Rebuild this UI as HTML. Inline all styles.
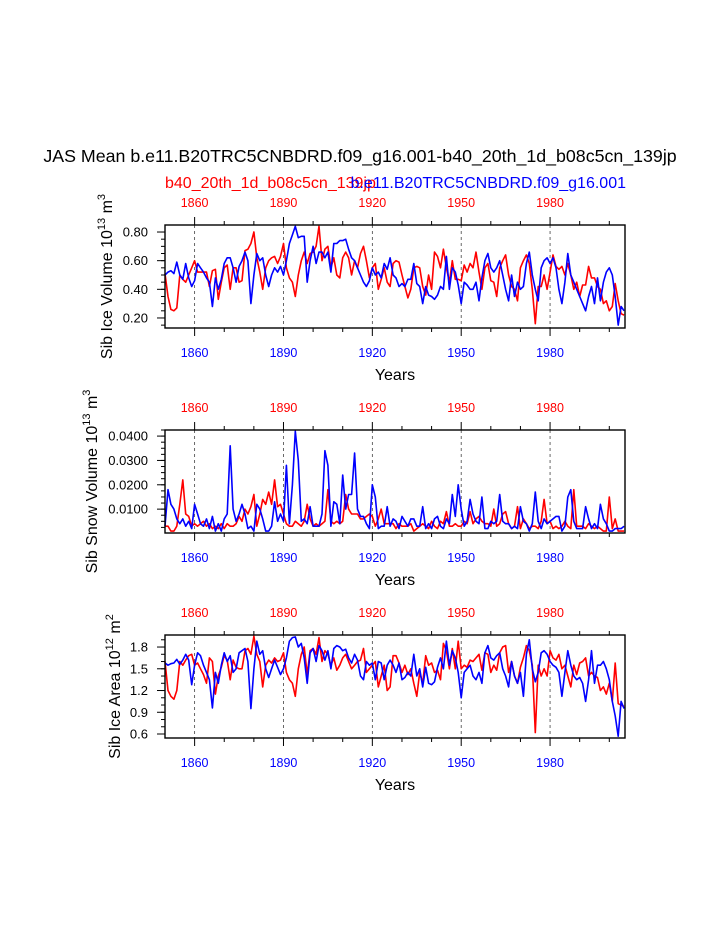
<!DOCTYPE html>
<html><head><meta charset="utf-8"><style>
body{margin:0;background:#fff;}
svg{display:block;font-family:"Liberation Sans",Arial,sans-serif;}
</style></head><body>
<svg id="chart" width="723" height="935" viewBox="0 0 723 935" xmlns="http://www.w3.org/2000/svg">
<text x="360" y="162" font-size="17.8" text-anchor="middle">JAS Mean b.e11.B20TRC5CNBDRD.f09_g16.001-b40_20th_1d_b08c5cn_139jp</text>
<text x="165" y="188" font-size="16" fill="#ff0000">b40_20th_1d_b08c5cn_139jp</text>
<text x="626" y="188" font-size="16" fill="#0000ff" text-anchor="end">b.e11.B20TRC5CNBDRD.f09_g16.001</text>
<g id="plots"></g>
</svg>
<script>
const years0 = 1850;
const volRed = [.51,.35,.26,.25,.27,.50,.47,.45,.50,.55,.60,.52,.52,.52,.52,.42,.53,.54,.33,.45,.55,.57,.40,.55,.55,.45,.46,.67,.68,.72,.80,.62,.52,.40,.55,.60,.62,.63,.58,.63,.72,.55,.48,.45,.35,.50,.60,.66,.58,.65,.66,.70,.84,.60,.68,.70,.55,.62,.50,.48,.62,.66,.62,.50,.60,.55,.65,.70,.60,.48,.55,.58,.40,.47,.55,.45,.42,.58,.60,.59,.50,.42,.34,.40,.55,.56,.55,.42,.36,.50,.40,.66,.63,.55,.68,.55,.45,.60,.47,.47,.46,.57,.52,.58,.55,.66,.52,.40,.55,.58,.46,.45,.35,.55,.60,.64,.50,.42,.40,.32,.55,.60,.64,.58,.40,.16,.42,.42,.50,.40,.52,.64,.56,.54,.56,.50,.58,.50,.40,.45,.35,.43,.43,.56,.48,.48,.42,.40,.30,.32,.25,.28,.44,.32,.23,.22];
const volBlue = [.50,.52,.53,.51,.59,.50,.47,.58,.48,.42,.46,.58,.55,.52,.48,.45,.28,.48,.40,.47,.58,.62,.62,.55,.45,.56,.60,.66,.60,.30,.50,.65,.60,.62,.50,.42,.50,.55,.52,.56,.50,.60,.72,.78,.84,.76,.77,.77,.45,.60,.70,.58,.66,.66,.62,.66,.52,.72,.72,.74,.74,.75,.68,.62,.60,.55,.50,.45,.42,.46,.55,.50,.52,.48,.58,.54,.62,.50,.48,.42,.44,.42,.47,.47,.58,.44,.42,.30,.42,.36,.35,.33,.36,.42,.40,.63,.40,.55,.52,.43,.30,.45,.43,.40,.40,.45,.32,.48,.60,.65,.55,.52,.55,.60,.50,.40,.32,.50,.35,.45,.40,.42,.58,.66,.50,.40,.32,.55,.60,.62,.58,.62,.55,.40,.30,.45,.65,.50,.45,.40,.35,.30,.25,.35,.42,.30,.48,.32,.45,.52,.55,.50,.35,.15,.28,.25];
const snowRed = [.003,.003,.001,.001,.003,.012,.022,.008,.007,.003,.004,.003,.004,.005,.003,.004,.002,.003,.002,.004,.002,.004,.003,.003,.004,.007,.005,.010,.008,.011,.016,.003,.008,.014,.012,.017,.012,.022,.011,.012,.008,.004,.003,.003,.005,.004,.003,.005,.012,.006,.003,.004,.003,.004,.005,.018,.005,.004,.005,.004,.005,.016,.010,.008,.008,.008,.006,.006,.007,.008,.007,.003,.006,.010,.004,.004,.004,.004,.002,.004,.003,.003,.003,.004,.001,.002,.003,.004,.003,.002,.005,.003,.002,.005,.004,.009,.003,.003,.004,.003,.003,.005,.004,.009,.004,.006,.007,.005,.004,.004,.003,.010,.003,.004,.008,.009,.004,.002,.003,.011,.002,.006,.004,.002,.003,.003,.002,.005,.014,.004,.005,.002,.003,.002,.003,.005,.003,.002,.018,.003,.003,.003,.002,.004,.003,.002,.003,.002,.001,.001,.015,.002,.006,.001,.001,.001];
const snowBlue = [.003,.018,.012,.010,.006,.004,.006,.003,.005,.002,.012,.008,.004,.003,.006,.002,.007,.001,.004,.001,.006,.008,.036,.010,.005,.008,.012,.008,.002,.003,.001,.012,.010,.006,.001,.001,.003,.013,.005,.008,.005,.028,.004,.020,.042,.030,.005,.006,.004,.011,.003,.003,.003,.008,.034,.028,.003,.013,.012,.004,.024,.010,.016,.016,.033,.010,.007,.007,.004,.002,.020,.015,.002,.003,.003,.011,.003,.006,.005,.002,.007,.005,.003,.006,.006,.003,.003,.011,.002,.004,.002,.006,.007,.003,.002,.006,.004,.016,.007,.020,.010,.003,.005,.014,.008,.005,.004,.015,.002,.002,.005,.004,.005,.016,.005,.004,.004,.002,.003,.002,.011,.005,.004,.001,.004,.017,.005,.002,.006,.004,.005,.006,.007,.007,.001,.003,.015,.018,.005,.002,.002,.002,.011,.006,.002,.004,.002,.012,.006,.004,.001,.001,.002,.002,.002,.003];
const areaRed = [1.60,1.20,1.12,1.08,1.20,1.60,1.55,1.62,1.68,1.70,1.55,1.58,1.50,1.42,1.30,1.65,1.60,1.15,1.40,1.52,1.68,1.62,1.35,1.62,1.52,1.50,1.50,1.75,1.78,1.70,1.95,1.70,1.60,1.25,1.55,1.62,1.58,1.65,1.60,1.62,1.72,1.45,1.35,1.30,1.12,1.50,1.70,1.80,1.42,1.75,1.78,1.70,1.93,1.60,1.75,1.70,1.55,1.65,1.48,1.55,1.65,1.70,1.60,1.50,1.55,1.60,1.62,1.78,1.45,1.50,1.55,1.60,1.25,1.40,1.55,1.20,1.25,1.68,1.68,1.58,1.45,1.55,1.42,1.50,1.30,1.12,1.45,1.30,1.68,1.55,1.58,1.45,1.48,1.35,1.85,1.75,1.50,1.78,1.50,1.88,1.50,1.55,1.52,1.62,1.60,1.65,1.70,1.48,1.72,1.70,1.45,1.55,1.48,1.72,1.80,1.82,1.45,1.60,1.40,1.30,1.52,1.65,1.82,1.75,1.55,0.62,1.55,1.40,1.50,1.40,1.75,1.65,1.62,1.70,1.50,1.55,1.40,1.25,1.55,1.42,1.58,1.60,1.65,1.40,1.45,1.40,1.38,1.20,1.25,1.15,1.30,1.05,1.58,1.02,1.00,0.98];
const areaBlue = [1.58,1.55,1.57,1.58,1.63,1.56,1.62,1.70,1.62,1.28,1.55,1.72,1.68,1.55,1.45,1.35,0.96,1.45,1.30,1.55,1.72,1.60,1.68,1.45,1.50,1.72,1.75,1.78,1.60,0.95,1.50,1.88,1.70,1.75,1.50,1.38,1.50,1.62,1.52,1.42,1.50,1.65,1.88,1.93,1.94,1.80,1.85,1.65,1.30,1.72,1.78,1.60,1.82,1.75,1.62,1.75,1.50,1.78,1.82,1.80,1.75,1.77,1.65,1.58,1.70,1.62,1.40,1.35,1.60,1.55,1.58,1.35,1.60,1.58,1.35,1.55,1.62,1.55,1.45,1.58,1.35,1.38,1.45,1.40,1.70,1.40,1.50,1.25,1.52,1.30,1.28,1.32,1.52,1.65,1.50,1.88,1.55,1.75,1.65,1.45,1.10,1.45,1.50,1.55,1.40,1.35,1.45,1.30,1.72,1.82,1.65,1.62,1.68,1.72,1.50,1.40,1.25,1.60,1.40,1.30,1.45,1.12,1.70,1.90,1.50,1.32,1.45,1.72,1.75,1.70,1.60,1.55,1.52,1.45,1.12,1.45,1.75,1.55,1.40,1.35,1.38,1.30,1.05,1.35,1.75,1.30,1.55,1.55,1.60,1.50,1.35,1.05,0.85,0.57,1.05,0.95];
const xTickLabels = ["1860","1890","1920","1950","1980"];
const volTicks = ["0.20","0.40","0.60","0.80"];
const snowTicks = ["0.0100","0.0200","0.0300","0.0400"];
const areaTicks = ["0.6","0.9","1.2","1.5","1.8"];

const NS="http://www.w3.org/2000/svg";
const g=document.getElementById('plots');
function mk(tag,attrs,parent){const e=document.createElementNS(NS,tag);for(const k in attrs)e.setAttribute(k,attrs[k]);(parent||g).appendChild(e);return e;}
const X0=165,X1=625,Y0min=1850,Y0max=2005.3;
function xs(yr){return X0+(yr-Y0min)/(Y0max-Y0min)*(X1-X0);}

function panel(cfg){
  const grp=mk('g',{});
  
  
  const T=cfg.top,B=cfg.top+103;
  const ys=v=>B-(v-cfg.ymin)/(cfg.ymax-cfg.ymin)*(B-T);
  xTickLabels.forEach(t=>{const x=xs(+t);const l=mk('line',{x1:x,x2:x,y1:T,y2:B,stroke:'#444','stroke-width':0.8,'stroke-dasharray':'3,3'},grp);
    
    });
  [[cfg.red,'#ff0000','series-red'],[cfg.blue,'#0000ff','series-blue']].forEach(([arr,col,nm])=>{
    const pts=arr.map((v,i)=>xs(years0+i).toFixed(1)+','+ys(v).toFixed(1)).join(' ');
    const p=mk('polyline',{points:pts,fill:'none',stroke:col,'stroke-width':1.6,'stroke-linejoin':'round'},grp);
    
    
  });
  const f=mk('rect',{x:X0,y:T,width:X1-X0,height:B-T,fill:'none',stroke:'#000','stroke-width':1.4},grp);
  
  
  for(let yr=1860;yr<=2000;yr+=10){const x=xs(yr);const L=(yr-1860)%30===0?8:4;
    mk('line',{x1:x,x2:x,y1:T,y2:T-L,stroke:'#000','stroke-width':1},grp);
    mk('line',{x1:x,x2:x,y1:B,y2:B+L,stroke:'#000','stroke-width':1},grp);}
  xTickLabels.forEach(t=>{const x=xs(+t);
    const a=mk('text',{x:x,y:T-18,'font-size':12.5,fill:'#ff0000','text-anchor':'middle'},grp);a.textContent=t;
    
    
    const b=mk('text',{x:x,y:B+29,'font-size':12.5,fill:'#0000ff','text-anchor':'middle'},grp);b.textContent=t;
    
    });
  const xt=mk('text',{x:395,y:B+52,'font-size':16,'text-anchor':'middle'},grp);xt.textContent='Years';
  
  
  for(let v=cfg.minorStart;v<=cfg.ymax+1e-9;v+=cfg.minor){const y=ys(v);if(y<T-0.5)break;
    mk('line',{x1:X0,x2:X0-4,y1:y,y2:y,stroke:'#000','stroke-width':1},grp);}
  cfg.ticks.forEach(t=>{const y=ys(+t);
    mk('line',{x1:X0,x2:X0-8,y1:y,y2:y,stroke:'#000','stroke-width':1},grp);
    const l=mk('text',{x:X0-17,y:y+4.5,'font-size':13,'text-anchor':'end'},grp);l.textContent=t;
    
    });
  const yt=mk('text',{x:0,y:0,'font-size':16,'text-anchor':'middle',transform:`translate(${cfg.titleX},${(T+B)/2}) rotate(-90)`},grp);
  
  
  yt.innerHTML=cfg.title+' 10<tspan dy="-7" font-size="11">'+cfg.exp+'</tspan><tspan dy="7"> m</tspan><tspan dy="-7" font-size="11">'+cfg.unit+'</tspan>';
}
panel({name:'ice-volume-panel',top:225,ymin:0.13,ymax:0.849,red:volRed,blue:volBlue,ticks:volTicks,minor:0.05,minorStart:0.15,titleX:112,title:'Sib Ice Volume',exp:'13',unit:'3'});
panel({name:'snow-volume-panel',top:430,ymin:0.0002,ymax:0.0425,red:snowRed,blue:snowBlue,ticks:snowTicks,minor:0.0025,minorStart:0.0025,titleX:97,title:'Sib Snow Volume',exp:'13',unit:'3'});
panel({name:'ice-area-panel',top:635,ymin:0.545,ymax:1.966,red:areaRed,blue:areaBlue,ticks:areaTicks,minor:0.1,minorStart:0.6,titleX:120,title:'Sib Ice Area',exp:'12',unit:'2'});
</script>
</body></html>
